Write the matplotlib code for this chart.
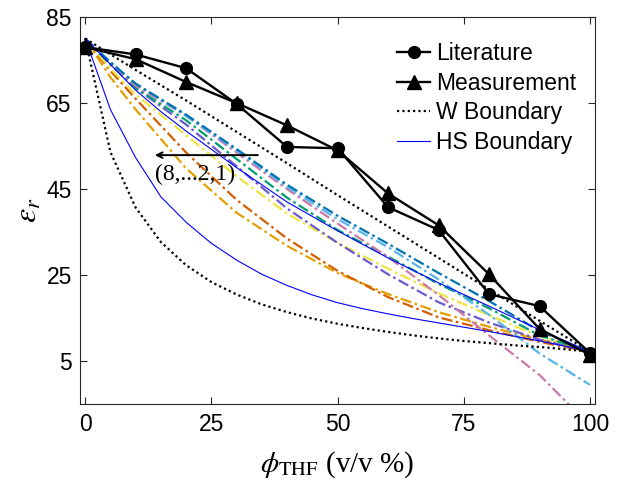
import matplotlib
matplotlib.use("Agg")
import matplotlib.pyplot as plt

plt.rcParams['font.family'] = ['Liberation Sans', 'DejaVu Sans']
plt.rcParams['mathtext.fontset'] = 'stix'

# ---- data ----
phi_exp = [0, 10, 20, 30, 40, 50, 60, 70, 80, 90, 100]
literature = [78, 76.3, 73.1, 64.8, 54.8, 54.5, 40.8, 35.5, 20.6, 17.8, 6.9]
measurement = [78, 75.2, 69.9, 65, 59.8, 54, 44, 36.6, 25.2, 12.5, 6.5]

phi_w_upper = [0, 10, 20, 30, 40, 50, 60, 70, 80, 90, 100]
w_upper = [80, 72.7, 65.6, 58.3, 51.0, 43.6, 36.3, 29.0, 21.7, 14.4, 7.2]

phi_5 = [0, 5, 10, 15, 20, 25, 30, 35, 40, 45, 50, 55, 60, 65, 70, 75, 80, 85, 90, 95, 100]
w_lower = [80, 53.6, 40.7, 32.7, 27.3, 23.4, 20.5, 18.2, 16.4, 14.9, 13.7, 12.7, 11.8,
           11.0, 10.3, 9.7, 9.2, 8.7, 8.3, 7.8, 7.2]
hs_lower = [80, 63.5, 52.3, 43.2, 37.3, 32.4, 28.5, 25.2, 22.6, 20.4, 18.6, 17.2, 16.0,
            14.9, 13.9, 12.9, 11.9, 10.8, 9.7, 8.5, 7.2]

phi_hs_up = [0, 5, 10, 15, 20, 30, 40, 50, 60, 70, 80, 90, 100]
hs_upper = [80, 74, 68, 63, 58.5, 50, 42, 35.3, 29, 23.2, 17.8, 12.3, 7.2]

phi_m = [0, 5, 10, 20, 30, 40, 50, 60, 70, 80, 90, 100]
model_8 = [80, 71, 63.5, 49.8, 39.5, 31.8, 25.5, 20.6, 16.4, 13.0, 10.0, 7.2]   # orange
model_7 = [80, 72.5, 66, 53.5, 42.5, 33.5, 26, 19.9, 15.2, 12.2, 9.5, 7.2]      # vermilion
model_6 = [80, 73, 67, 57.5, 48, 39.3, 32.5, 26.5, 20.8, 15.7, 10.8, 7.2]       # yellow
model_5 = [80, 74, 68.5, 60, 50.3, 40.5, 32.5, 25.2, 18.7, 14.0, 10.0, 7.2]     # purple
model_4 = [80, 74, 68.5, 61, 52, 43, 35.5, 29.3, 23, 17.3, 11, 7.2]            # green
model_3 = [80, 74.3, 69, 62, 53.5, 45, 37, 29.2, 20.4, 11, 1.8, -10]          # pink
model_2 = [80, 74.5, 69.5, 62, 54, 45.5, 38, 31.5, 24, 15.8, 6.8, -0.5]        # light blue
model_1 = [80, 74.5, 69.5, 62.3, 54.3, 46, 38.8, 32.3, 25.5, 19, 12, 7.2]     # blue

model_series = [model_8, model_7, model_6, model_5, model_4, model_3, model_2, model_1]
model_colors = ['#E69F00', '#D55E00', '#F0E442', '#6A5ACD', '#009E73', '#CC79A7', '#56B4E9', '#0072B2']

xticks = [0, 25, 50, 75, 100]
yticks = [5, 25, 45, 65, 85]

# ---- figure ----
fig = plt.figure(figsize=(6.31, 4.87), dpi=100)
ax = fig.add_axes([0.127, 0.170, 0.816, 0.795])

dd = (0, (5, 1.6, 1.2, 1.6))
for ys, c in zip(model_series, model_colors):
    ax.plot(phi_m, ys, color=c, lw=1.6, linestyle=dd, zorder=2)

ax.plot(phi_hs_up, hs_upper, color='#0000FF', lw=0.8, zorder=3)
ax.plot(phi_5, hs_lower, color='#0000FF', lw=0.8, zorder=3, label='HS Boundary')
ax.plot(phi_w_upper, w_upper, color='black', lw=1.6, linestyle=(0, (1, 1.4)), zorder=3)
ax.plot(phi_5, w_lower, color='black', lw=1.6, linestyle=(0, (1, 1.4)), zorder=3, label='W Boundary')
ax.plot(phi_exp, literature, color='black', lw=1.7, marker='o', ms=8.5, zorder=5, label='Literature')
ax.plot(phi_exp, measurement, color='black', lw=1.7, marker='^', ms=9.5, zorder=5, label='Measurement')

ax.set_xlim(-1, 101)
ax.set_ylim(-5, 85)
ax.set_xticks(xticks)
ax.set_yticks(yticks)
ax.tick_params(direction='in', length=5, width=0.8, top=True, right=True,
               labelsize=16.5, colors='#262626', labelcolor='black', pad=6)
for s in ax.spines.values():
    s.set_linewidth(0.8)
    s.set_color('#262626')

ax.set_ylabel(r'$\varepsilon_r$', fontsize=23, labelpad=2)
ax.set_xlabel(r'$\phi_{\mathrm{THF}}$ (v/v %)', fontsize=21, family='Liberation Serif', labelpad=10)

# annotation arrow
ax.annotate('', xy=(13.8, 52.9), xytext=(34.2, 52.9),
            arrowprops=dict(arrowstyle='->', color='black', lw=1.4, shrinkA=0, shrinkB=0))
ax.text(13.8, 48.3, '(8,...2,1)', fontsize=17, family='Liberation Serif', ha='left', va='center')

h, l = ax.get_legend_handles_labels()
order = ['Literature', 'Measurement', 'W Boundary', 'HS Boundary']
hh = [h[l.index(o)] for o in order]
ax.legend(hh, order, loc='upper right', bbox_to_anchor=(0.99, 0.97), frameon=False,
          fontsize=16.5, handlelength=1.45, handletextpad=0.25, labelspacing=0.28,
          borderaxespad=0.2)

fig.savefig('out.png', dpi=100)
